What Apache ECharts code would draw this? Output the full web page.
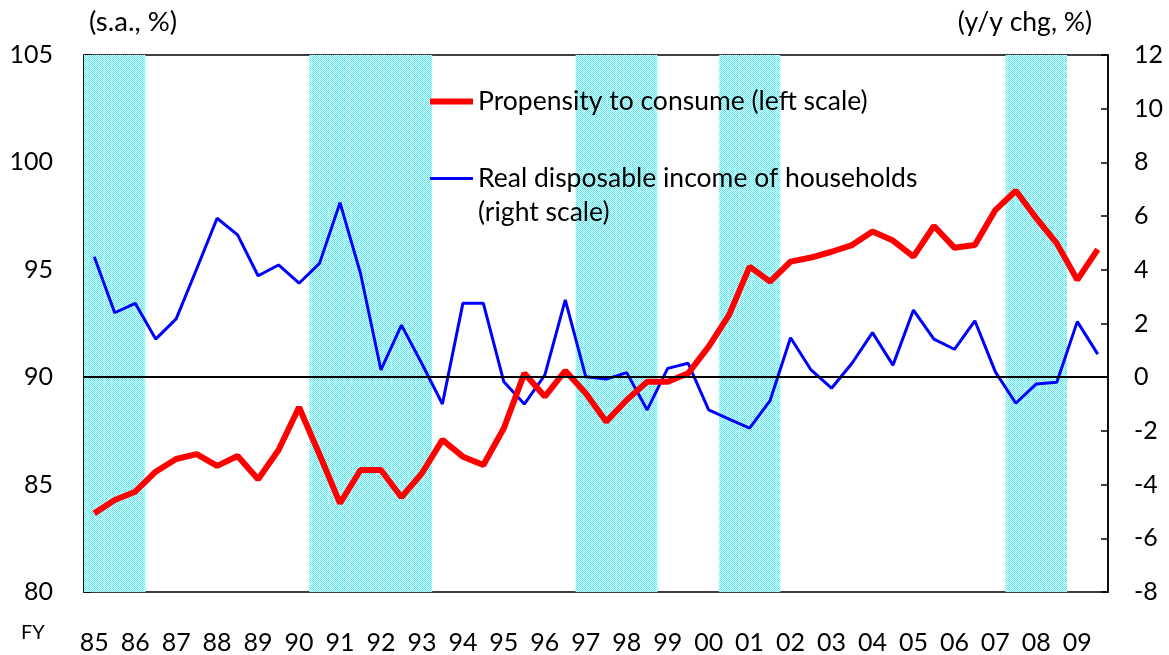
<!DOCTYPE html>
<html>
<head>
<meta charset="utf-8">
<script src="https://cdn.jsdelivr.net/npm/echarts@6/dist/echarts.min.js"></script>
<style>
html,body{margin:0;padding:0;background:#fff;}
#chart{width:1169px;height:655px;}
</style>
</head>
<body>
<div id="chart"></div>
<script>
// Fiscal years (two half-year observations per year)
const years = ['85','86','87','88','89','90','91','92','93','94','95','96','97','98','99','00','01','02','03','04','05','06','07','08','09'];

// Propensity to consume (left scale, s.a., %)
const propensity = [
  83.66, 84.28, 84.67, 85.60, 86.19, 86.42, 85.87, 86.33, 85.25, 86.61,
  88.60, 86.40, 84.13, 85.68, 85.68, 84.41, 85.53, 87.08, 86.30, 85.91,
  87.62, 90.18, 89.10, 90.30, 89.25, 87.93, 88.94, 89.79, 89.79, 90.18,
  91.42, 92.90, 95.15, 94.45, 95.38, 95.57, 95.84, 96.15, 96.78, 96.36,
  95.61, 97.04, 96.03, 96.15, 97.78, 98.68, 97.40, 96.23, 94.53, 95.95
];

// Real disposable income of households (right scale, y/y chg, %)
const income = [
  4.49, 2.40, 2.75, 1.42, 2.17, 4.03, 5.92, 5.30, 3.78, 4.18,
  3.50, 4.24, 6.50, 3.87, 0.27, 1.94, 0.50, -1.00, 2.75, 2.75,
  -0.17, -1.00, 0.08, 2.88, 0.02, -0.07, 0.17, -1.22, 0.33, 0.52,
  -1.22, -1.56, -1.90, -0.87, 1.47, 0.27, -0.41, 0.52, 1.66, 0.45,
  2.50, 1.42, 1.04, 2.10, 0.20, -0.97, -0.25, -0.19, 2.07, 0.86
];

// Shaded (recession) periods: [first half-year index, last half-year index]
const shadedPeriods = [[0, 2], [11, 16], [24, 27], [31, 33], [45, 47]];

const leftTicks = { min: 80, max: 105, interval: 5 };
const rightTicks = { min: -8, max: 12, interval: 2 };

const nameRed = 'Propensity to consume (left scale)';
const nameBlue = 'Real disposable income of households';

const categories = [];
years.forEach(y => { categories.push(y + 'H1'); categories.push(y + 'H2'); });

const shade = categories.map((c, i) =>
  shadedPeriods.some(p => i >= p[0] && i <= p[1]) ? leftTicks.max : '-');

// dotted hatch pattern for shaded periods
const pc = document.createElement('canvas');
pc.width = 4; pc.height = 6;
const pctx = pc.getContext('2d');
pctx.fillStyle = '#ffffff'; pctx.fillRect(0, 0, 4, 6);
pctx.fillStyle = '#4cf1f8';
for (let yy = 0; yy < 6; yy++) for (let xx = 0; xx < 4; xx++) {
  if ((xx + yy) % 2 === 0) pctx.fillRect(xx, yy, 1, 1);
}
pctx.fillStyle = '#d2fcfd';
for (let yy = 0; yy < 6; yy++) for (let xx = 0; xx < 4; xx++) {
  if ((xx + yy) % 2 === 1 && xx === 1) pctx.fillRect(xx, yy, 1, 1);
}

const FONT = 'Lato';
const chart = echarts.init(document.getElementById('chart'), null, { renderer: 'canvas' });

chart.setOption({
  animation: false,
  backgroundColor: '#fff',
  textStyle: { fontFamily: FONT },
  grid: { left: 84, right: 61, top: 55, bottom: 63, show: true, borderColor: '#000', borderWidth: 1.5, backgroundColor: 'transparent' },
  legend: {
    data: [
      { name: nameRed, lineStyle: { color: '#ff0000', width: 6 } },
      { name: nameBlue, lineStyle: { color: '#0000ff', width: 3 } }
    ],
    orient: 'vertical',
    left: 427, top: 88, padding: 0,
    itemWidth: 43, itemHeight: 14, itemGap: 50,
    itemStyle: { opacity: 0 },
    textStyle: { fontFamily: FONT, fontSize: 26.5, color: '#000' },
    selectedMode: false,
    z: 10
  },
  graphic: [
    { type: 'text', left: 478, top: 199, z: 100, style: { text: '(right scale)', font: '26.5px Lato', fill: '#000' } },
    { type: 'text', left: 21, top: 623, z: 100, style: { text: 'FY', font: '20px Lato', fill: '#000' } }
  ],
  xAxis: {
    type: 'category',
    data: categories,
    boundaryGap: true,
    axisLine: { lineStyle: { color: '#000', width: 1.5 } },
    axisTick: { inside: true, interval: 1, length: 5, lineStyle: { color: '#000', width: 1.5 } },
    axisLabel: { interval: 1, margin: 38, fontSize: 25, color: '#000', fontFamily: FONT,
      formatter: v => v.slice(0, 2) },
    splitLine: { show: false }
  },
  yAxis: [
    {
      type: 'value', position: 'left',
      min: leftTicks.min, max: leftTicks.max, interval: leftTicks.interval,
      name: '(s.a., %)', nameLocation: 'end', nameGap: 19,
      nameTextStyle: { fontSize: 27.5, color: '#000', align: 'left', fontFamily: FONT, padding: [0, 0, 0, 5] },
      axisLine: { show: true, lineStyle: { color: '#000', width: 1.5 } },
      axisTick: { show: true, inside: true, length: 7, lineStyle: { color: '#000', width: 1.5 } },
      axisLabel: { margin: 31, fontSize: 25, color: '#000', fontFamily: FONT },
      splitLine: { show: false }
    },
    {
      type: 'value', position: 'right',
      min: rightTicks.min, max: rightTicks.max, interval: rightTicks.interval,
      name: '(y/y chg, %)', nameLocation: 'end', nameGap: 19,
      nameTextStyle: { fontSize: 26.5, color: '#000', align: 'right', fontFamily: FONT, padding: [0, 16, 0, 0] },
      axisLine: { show: true, lineStyle: { color: '#000', width: 1.5 } },
      axisTick: { show: true, inside: true, length: 7, lineStyle: { color: '#000', width: 1.5 } },
      axisLabel: { margin: 26, fontSize: 25, color: '#000', fontFamily: FONT },
      splitLine: { show: false }
    }
  ],
  series: [
    {
      name: 'shade', type: 'bar', yAxisIndex: 0, data: shade,
      barCategoryGap: '0%', barGap: '0%', silent: true, z: 1,
      itemStyle: { color: { image: pc, repeat: 'repeat' } }
    },
    {
      name: nameBlue, type: 'line', yAxisIndex: 1, data: income,
      symbol: 'none', z: 3,
      lineStyle: { color: '#0000ff', width: 3 }, itemStyle: { color: '#0000ff' },
      markLine: {
        silent: true, symbol: ['none', 'none'], label: { show: false },
        lineStyle: { color: '#000', width: 2, type: 'solid' },
        data: [{ yAxis: 0 }]
      }
    },
    {
      name: nameRed, type: 'line', yAxisIndex: 0, data: propensity,
      symbol: 'none', z: 4,
      lineStyle: { color: '#ff0000', width: 6 }, itemStyle: { color: '#ff0000' }
    }
  ]
});
</script>
</body>
</html>
